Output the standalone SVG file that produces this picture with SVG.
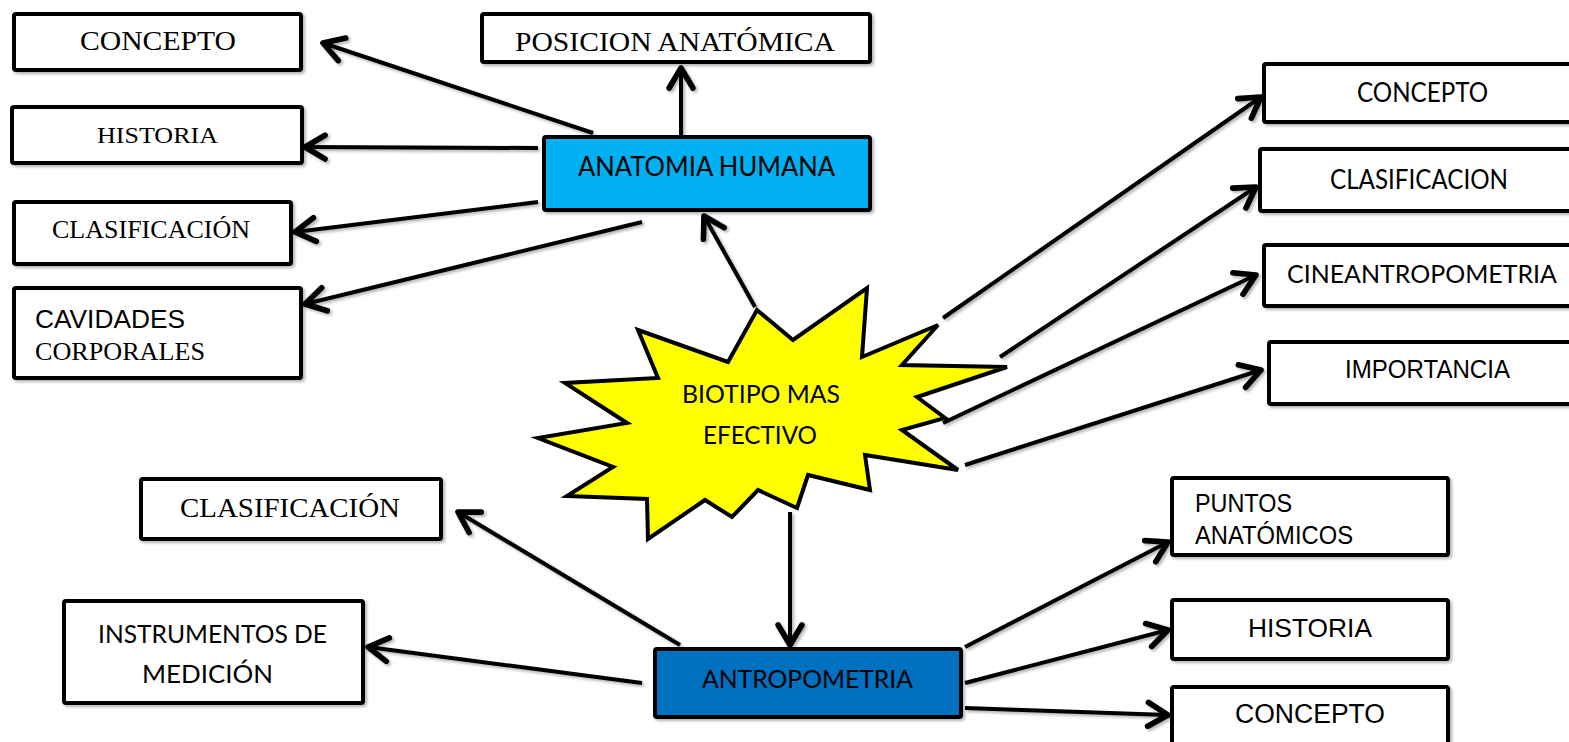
<svg xmlns="http://www.w3.org/2000/svg" width="1569" height="742" viewBox="0 0 1569 742">
<defs>
<style>
.box{fill:#fff;stroke:#000;stroke-width:4;}
.serif{font-family:"Liberation Serif","Times New Roman",serif;fill:#000;}
.arial{font-family:"Liberation Sans",Arial,sans-serif;fill:#000;}
.cal{font-family:Lato,"Open Sans",sans-serif;fill:#000;}
.ln{stroke:#000;stroke-width:4;fill:none;marker-end:url(#ah);}
</style>
<marker id="ah" markerUnits="userSpaceOnUse" markerWidth="40" markerHeight="40" viewBox="-22 -16 30 32" refX="0" refY="0" orient="auto">
<path d="M-16,-9.5 L0,0 L-16,9.5" fill="none" stroke="#000" stroke-width="4.5" stroke-linecap="round" stroke-linejoin="round"/>
</marker>
<filter id="sh" x="-10%" y="-10%" width="130%" height="130%">
<feDropShadow dx="2" dy="2" stdDeviation="1.5" flood-color="#000" flood-opacity="0.3"/>
</filter>
</defs>
<rect width="1569" height="742" fill="#fff"/>
<g id="connectors" filter="url(#sh)">
<line class="ln" x1="593" y1="133" x2="323" y2="43"/>
<line class="ln" x1="538" y1="148" x2="305" y2="147"/>
<line class="ln" x1="538" y1="202" x2="295" y2="232"/>
<line class="ln" x1="642" y1="222" x2="305" y2="304"/>
<line class="ln" x1="681" y1="135" x2="681" y2="68"/>
<line class="ln" x1="755" y1="307" x2="704" y2="216"/>
<line class="ln" x1="943" y1="318" x2="1261" y2="97"/>
<line class="ln" x1="1000" y1="357" x2="1256" y2="187"/>
<line class="ln" x1="943" y1="423" x2="1256" y2="275"/>
<line class="ln" x1="965" y1="465" x2="1261" y2="370"/>
<line class="ln" x1="790" y1="512" x2="790" y2="645"/>
<line class="ln" x1="680" y1="645" x2="458" y2="512"/>
<line class="ln" x1="642" y1="683" x2="368" y2="647"/>
<line class="ln" x1="965" y1="647" x2="1168" y2="542"/>
<line class="ln" x1="965" y1="683" x2="1168" y2="630"/>
<line class="ln" x1="965" y1="708" x2="1168" y2="715"/>
</g>
<g id="concepto-tl">
<rect class="box" x="14" y="14" width="287" height="56" rx="2" filter="url(#sh)"/>
<text class="serif" x="80" y="50" font-size="27" textLength="156" lengthAdjust="spacingAndGlyphs">CONCEPTO</text>
</g>
<g id="historia-l">
<rect class="box" x="12" y="107" width="290" height="56" rx="2" filter="url(#sh)"/>
<text class="serif" x="97" y="143" font-size="23" textLength="121" lengthAdjust="spacingAndGlyphs">HISTORIA</text>
</g>
<g id="clasificacion-l">
<rect class="box" x="14" y="202" width="277" height="62" rx="2" filter="url(#sh)"/>
<text class="serif" x="52" y="238" font-size="25" textLength="198" lengthAdjust="spacingAndGlyphs">CLASIFICACIÓN</text>
</g>
<g id="cavidades">
<rect class="box" x="14" y="288" width="287" height="90" rx="2" filter="url(#sh)"/>
<text class="arial" x="35" y="328" font-size="25" textLength="150" lengthAdjust="spacingAndGlyphs">CAVIDADES</text>
<text class="serif" x="35" y="360" font-size="25.5" textLength="170" lengthAdjust="spacingAndGlyphs">CORPORALES</text>
</g>
<g id="posicion">
<rect class="box" x="482" y="14" width="388" height="48" rx="2" filter="url(#sh)"/>
<text class="serif" x="515" y="51" font-size="28" textLength="320" lengthAdjust="spacingAndGlyphs">POSICION ANATÓMICA</text>
</g>
<g id="anatomia">
<rect class="box" x="544" y="137" width="326" height="73" rx="2" style="fill:#00B0F0" filter="url(#sh)"/>
<text class="cal" x="578" y="176" font-size="26" textLength="257" lengthAdjust="spacingAndGlyphs">ANATOMIA HUMANA</text>
</g>
<g id="biotipo">
<polygon points="757,310 793,340 867,288 862,357 938,325 902,365 1007,367 917,397 945,418 902,430 958,470 865,455 870,490 808,475 797,508 758,490 732,517 705,500 648,539 647,499 567,496 613,467 538,438 627,423 565,383 658,378 638,330 728,362" fill="#FFFF00" stroke="#000" stroke-width="4" stroke-linejoin="miter"/>
<text class="cal" x="682" y="403" font-size="25" textLength="158" lengthAdjust="spacingAndGlyphs">BIOTIPO MAS</text>
<text class="cal" x="703" y="444" font-size="25" textLength="114" lengthAdjust="spacingAndGlyphs">EFECTIVO</text>
</g>
<g id="concepto-r">
<rect class="box" x="1264" y="64" width="310" height="58" rx="2" filter="url(#sh)"/>
<text class="cal" x="1357" y="102" font-size="26" textLength="131" lengthAdjust="spacingAndGlyphs">CONCEPTO</text>
</g>
<g id="clasificacion-r">
<rect class="box" x="1260" y="149" width="314" height="62" rx="2" filter="url(#sh)"/>
<text class="cal" x="1330" y="189" font-size="26" textLength="178" lengthAdjust="spacingAndGlyphs">CLASIFICACION</text>
</g>
<g id="cineantropometria">
<rect class="box" x="1264" y="245" width="310" height="61" rx="2" filter="url(#sh)"/>
<text class="cal" x="1287" y="283" font-size="25" textLength="270" lengthAdjust="spacingAndGlyphs">CINEANTROPOMETRIA</text>
</g>
<g id="importancia">
<rect class="box" x="1269" y="342" width="305" height="62" rx="2" filter="url(#sh)"/>
<text class="arial" x="1345" y="378" font-size="25" textLength="165" lengthAdjust="spacingAndGlyphs">IMPORTANCIA</text>
</g>
<g id="puntos">
<rect class="box" x="1172" y="478" width="276" height="77" rx="2" filter="url(#sh)"/>
<text class="arial" x="1195" y="512" font-size="25" textLength="97" lengthAdjust="spacingAndGlyphs">PUNTOS</text>
<text class="arial" x="1195" y="544" font-size="25" textLength="158" lengthAdjust="spacingAndGlyphs">ANATÓMICOS</text>
</g>
<g id="historia-br">
<rect class="box" x="1172" y="600" width="276" height="59" rx="2" filter="url(#sh)"/>
<text class="arial" x="1248" y="637" font-size="26" textLength="124" lengthAdjust="spacingAndGlyphs">HISTORIA</text>
</g>
<g id="concepto-br">
<rect class="box" x="1172" y="687" width="276" height="64" rx="2" filter="url(#sh)"/>
<text class="arial" x="1235" y="723" font-size="27" textLength="150" lengthAdjust="spacingAndGlyphs">CONCEPTO</text>
</g>
<g id="clasificacion-bl">
<rect class="box" x="141" y="479" width="300" height="60" rx="2" filter="url(#sh)"/>
<text class="serif" x="180" y="517" font-size="28" textLength="220" lengthAdjust="spacingAndGlyphs">CLASIFICACIÓN</text>
</g>
<g id="instrumentos">
<rect class="box" x="64" y="601" width="299" height="102" rx="2" filter="url(#sh)"/>
<text class="cal" x="98" y="643" font-size="25" textLength="229" lengthAdjust="spacingAndGlyphs">INSTRUMENTOS DE</text>
<text class="cal" x="142" y="683" font-size="25" textLength="131" lengthAdjust="spacingAndGlyphs">MEDICIÓN</text>
</g>
<g id="antropometria">
<rect class="box" x="655" y="649" width="306" height="68" rx="2" style="fill:#0070C0" filter="url(#sh)"/>
<text class="cal" x="702" y="688" font-size="25" textLength="211" lengthAdjust="spacingAndGlyphs">ANTROPOMETRIA</text>
</g>
</svg>
